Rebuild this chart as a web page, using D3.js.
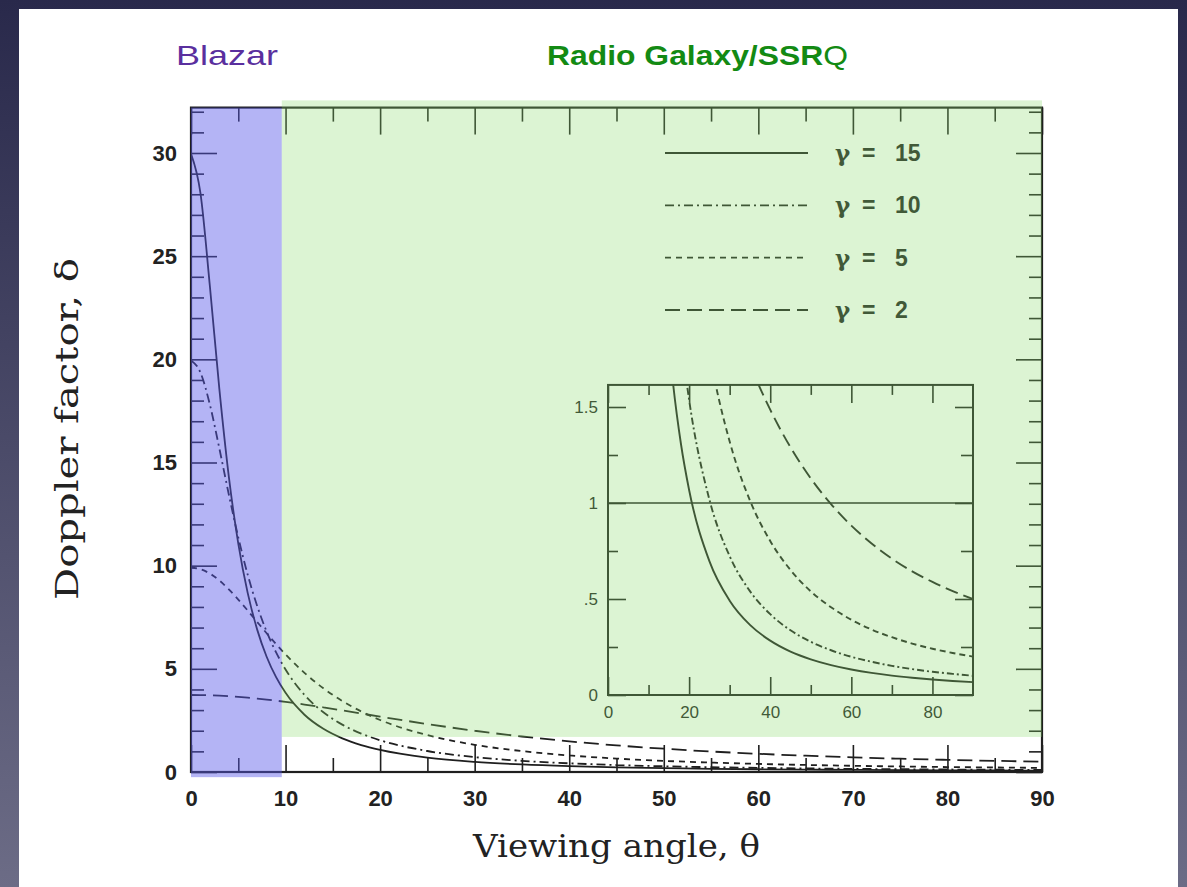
<!DOCTYPE html>
<html>
<head>
<meta charset="utf-8">
<script src="https://cdn.jsdelivr.net/npm/d3@7"></script>
<style>
  html, body { margin: 0; padding: 0; background: #3a3a5a; }
  svg { display: block; }
</style>
</head>
<body>
<svg id="chart" width="1187" height="887"></svg>
<script>
// Viewing angle θ (degrees) at which each curve is sampled
const angleDeg = [0, 1, 2, 3, 4, 5, 6, 7, 8, 9, 10, 12, 14, 16, 18, 20, 25, 30,
                  35, 40, 45, 50, 55, 60, 65, 70, 75, 80, 85, 90];

// Doppler factor δ for each Lorentz factor γ
const deltaGamma15 = [29.96, 28.05, 23.53, 18.56, 14.32, 11.07, 8.668, 6.90, 5.586, 4.595,
                      3.835, 2.775, 2.092, 1.631, 1.306, 1.068, 0.697, 0.491, 0.365, 0.283,
                      0.226, 0.186, 0.156, 0.133, 0.115, 0.101, 0.090, 0.081, 0.073, 0.067];
const deltaGamma10 = [19.95, 19.36, 17.80, 15.68, 13.45, 11.37, 9.557, 8.045, 6.805, 5.793,
                      4.968, 3.737, 2.893, 2.296, 1.862, 1.538, 1.018, 0.723, 0.541, 0.421,
                      0.337, 0.277, 0.233, 0.199, 0.173, 0.152, 0.135, 0.121, 0.110, 0.100];
const deltaGamma5  = [9.899, 9.827, 9.615, 9.283, 8.853, 8.358, 7.822, 7.271, 6.725, 6.199,
                      5.700, 4.806, 4.056, 3.439, 2.935, 2.522, 1.786, 1.320, 1.013, 0.802,
                      0.651, 0.540, 0.457, 0.392, 0.341, 0.301, 0.268, 0.241, 0.219, 0.200];
const deltaGamma2  = [3.732, 3.728, 3.717, 3.699, 3.674, 3.642, 3.604, 3.560, 3.511, 3.457,
                      3.398, 3.270, 3.131, 2.985, 2.835, 2.685, 2.324, 2.000, 1.721, 1.486,
                      1.290, 1.128, 0.994, 0.882, 0.789, 0.710, 0.644, 0.589, 0.541, 0.500];

const gammaLabels = ["15", "10", "5", "2"];

// Tick values
const mainXTicks = [0, 10, 20, 30, 40, 50, 60, 70, 80, 90];
const mainYTicks = [0, 5, 10, 15, 20, 25, 30];
const insetXTicks = [0, 20, 40, 60, 80];
const insetYTicks = [0, 0.5, 1, 1.5];
const insetYTickLabels = ["0", ".5", "1", "1.5"];

// Shaded regions (angle range for blazars, rest for radio galaxies / SSRQ)
const blazarAngleMax = 9.6;
const regionTitles = ["Blazar", "Radio Galaxy/SSR", "Q"];

const series = [
  { gamma: gammaLabels[0], values: deltaGamma15, dash: null,        insetDash: null },
  { gamma: gammaLabels[1], values: deltaGamma10, dash: "9,4,2,4",   insetDash: "7,3,2,3" },
  { gamma: gammaLabels[2], values: deltaGamma5,  dash: "6,5",       insetDash: "6,4" },
  { gamma: gammaLabels[3], values: deltaGamma2,  dash: "15,7",      insetDash: "13,6" }
];

const W = 1187, H = 887;
const svg = d3.select("#chart");
const defs = svg.append("defs");

// slide background
const bg = defs.append("linearGradient").attr("id", "bgGrad")
  .attr("x1", 0).attr("y1", 0).attr("x2", 0).attr("y2", 1);
bg.append("stop").attr("offset", "0%").attr("stop-color", "#29294b");
bg.append("stop").attr("offset", "100%").attr("stop-color", "#6c6c86");
svg.append("rect").attr("width", W).attr("height", H).attr("fill", "url(#bgGrad)");
svg.append("rect").attr("x", 19).attr("y", 9).attr("width", 1159).attr("height", H - 9)
  .attr("fill", "#ffffff");

const INK = "#1f1f1f";
const TICK_FONT = "'Liberation Sans', Arial, sans-serif";
const SERIF = "'DejaVu Serif', 'Liberation Serif', serif";

// ---------- main panel ----------
const x = d3.scaleLinear().domain([0, 90]).range([191, 1042]);
const y = d3.scaleLinear().domain([0, 30]).range([772, 153]);
const yTop = 32.2;

const main = svg.append("g");

defs.append("clipPath").attr("id", "mainClip").append("rect")
  .attr("x", x(0)).attr("y", y(yTop)).attr("width", x(90) - x(0)).attr("height", y(0) - y(yTop));

function styleAxis(g, fontSize, weight) {
  g.select(".domain").remove();
  g.selectAll(".tick line").attr("stroke", INK).attr("stroke-width", 1.6);
  g.selectAll(".tick text").attr("fill", "#222").attr("font-family", TICK_FONT)
    .attr("font-size", fontSize).attr("font-weight", weight);
}

const xMinorMain = d3.range(5, 90, 10);
const yMinorMain = d3.range(1, 33, 1).filter(v => v % 5 !== 0);

main.append("g").attr("transform", `translate(0,${y(0)})`)
  .call(d3.axisBottom(x).tickValues(mainXTicks).tickSize(-27).tickPadding(18).tickFormat(d3.format("d")))
  .call(g => styleAxis(g, 22, "bold"));
main.append("g").attr("transform", `translate(0,${y(0)})`)
  .call(d3.axisBottom(x).tickValues(xMinorMain).tickSize(-14).tickFormat(""))
  .call(g => styleAxis(g, 22, "bold"));
main.append("g").attr("transform", `translate(0,${y(yTop)})`)
  .call(d3.axisTop(x).tickValues(mainXTicks).tickSize(-27).tickFormat(""))
  .call(g => styleAxis(g, 22, "bold"));
main.append("g").attr("transform", `translate(0,${y(yTop)})`)
  .call(d3.axisTop(x).tickValues(xMinorMain).tickSize(-14).tickFormat(""))
  .call(g => styleAxis(g, 22, "bold"));
main.append("g").attr("transform", `translate(${x(0)},0)`)
  .call(d3.axisLeft(y).tickValues(mainYTicks).tickSize(-26).tickPadding(14).tickFormat(d3.format("d")))
  .call(g => styleAxis(g, 22, "bold"));
main.append("g").attr("transform", `translate(${x(0)},0)`)
  .call(d3.axisLeft(y).tickValues(yMinorMain).tickSize(-13).tickFormat(""))
  .call(g => styleAxis(g, 22, "bold"));
main.append("g").attr("transform", `translate(${x(90)},0)`)
  .call(d3.axisRight(y).tickValues(mainYTicks).tickSize(-26).tickFormat(""))
  .call(g => styleAxis(g, 22, "bold"));
main.append("g").attr("transform", `translate(${x(90)},0)`)
  .call(d3.axisRight(y).tickValues(yMinorMain).tickSize(-13).tickFormat(""))
  .call(g => styleAxis(g, 22, "bold"));

main.append("rect")
  .attr("x", x(0)).attr("y", y(yTop)).attr("width", x(90) - x(0)).attr("height", y(0) - y(yTop))
  .attr("fill", "none").attr("stroke", INK).attr("stroke-width", 2.2);

const mainLine = d3.line()
  .x((d, i) => x(angleDeg[i]))
  .y(d => y(d))
  .curve(d3.curveMonotoneX);

main.append("g").attr("clip-path", "url(#mainClip)")
  .selectAll("path").data(series).join("path")
  .attr("d", s => mainLine(s.values))
  .attr("fill", "none").attr("stroke", INK).attr("stroke-width", 1.8)
  .attr("stroke-dasharray", s => s.dash);

// legend: sample line, then "γ = n"
const legendY = d3.scalePoint().domain(gammaLabels).range([153, 310]);
const legend = main.append("g");
legend.selectAll("line").data(series).join("line")
  .attr("x1", 665).attr("x2", 808)
  .attr("y1", s => legendY(s.gamma)).attr("y2", s => legendY(s.gamma))
  .attr("stroke", INK).attr("stroke-width", 1.9)
  .attr("stroke-dasharray", s => s.dash);
const legendText = legend.selectAll("text").data(series).join("text")
  .attr("y", s => legendY(s.gamma) + 8)
  .attr("fill", "#222").attr("font-size", 23);
legendText.append("tspan").attr("x", 835)
  .attr("font-family", SERIF).attr("font-weight", "bold").text("γ");
legendText.append("tspan").attr("x", 862)
  .attr("font-family", TICK_FONT).attr("font-weight", "bold").text("=");
legendText.append("tspan").attr("x", 895)
  .attr("font-family", TICK_FONT).attr("font-weight", "bold").text(s => s.gamma);

// axis titles
main.append("text")
  .attr("x", (x(0) + x(90)) / 2).attr("y", 857)
  .attr("text-anchor", "middle").attr("font-family", SERIF).attr("font-size", 32)
  .attr("fill", "#222")
  .attr("textLength", 287).attr("lengthAdjust", "spacingAndGlyphs")
  .text("Viewing angle, θ");
main.append("text")
  .attr("transform", `translate(78,429) rotate(-90)`)
  .attr("text-anchor", "middle").attr("font-family", SERIF).attr("font-size", 31)
  .attr("fill", "#222")
  .attr("textLength", 342).attr("lengthAdjust", "spacingAndGlyphs")
  .text("Doppler factor, δ");

// ---------- inset ----------
const xi = d3.scaleLinear().domain([0, 90]).range([608, 973]);
const yi = d3.scaleLinear().domain([0, 1]).range([695, 503]);
const yiTop = 1.615;
const inset = svg.append("g");

defs.append("clipPath").attr("id", "insetClip").append("rect")
  .attr("x", xi(0)).attr("y", yi(yiTop)).attr("width", xi(90) - xi(0)).attr("height", yi(0) - yi(yiTop));

const xMinorInset = [10, 30, 50, 70];
const yMinorInset = [0.25, 0.75, 1.25];

inset.append("g").attr("transform", `translate(0,${yi(0)})`)
  .call(d3.axisBottom(xi).tickValues(insetXTicks).tickSize(-18).tickPadding(11).tickFormat(d3.format("d")))
  .call(g => styleAxis(g, 17, "normal"));
inset.append("g").attr("transform", `translate(0,${yi(0)})`)
  .call(d3.axisBottom(xi).tickValues(xMinorInset).tickSize(-10).tickFormat(""))
  .call(g => styleAxis(g, 17, "normal"));
inset.append("g").attr("transform", `translate(0,${yi(yiTop)})`)
  .call(d3.axisTop(xi).tickValues(insetXTicks).tickSize(-18).tickFormat(""))
  .call(g => styleAxis(g, 17, "normal"));
inset.append("g").attr("transform", `translate(0,${yi(yiTop)})`)
  .call(d3.axisTop(xi).tickValues(xMinorInset).tickSize(-10).tickFormat(""))
  .call(g => styleAxis(g, 17, "normal"));
inset.append("g").attr("transform", `translate(${xi(0)},0)`)
  .call(d3.axisLeft(yi).tickValues(insetYTicks).tickSize(-18).tickPadding(10)
    .tickFormat((d, i) => insetYTickLabels[i]))
  .call(g => styleAxis(g, 17, "normal"));
inset.append("g").attr("transform", `translate(${xi(0)},0)`)
  .call(d3.axisLeft(yi).tickValues(yMinorInset).tickSize(-10).tickFormat(""))
  .call(g => styleAxis(g, 17, "normal"));
inset.append("g").attr("transform", `translate(${xi(90)},0)`)
  .call(d3.axisRight(yi).tickValues(insetYTicks).tickSize(-18).tickFormat(""))
  .call(g => styleAxis(g, 17, "normal"));
inset.append("g").attr("transform", `translate(${xi(90)},0)`)
  .call(d3.axisRight(yi).tickValues(yMinorInset).tickSize(-12).tickFormat(""))
  .call(g => styleAxis(g, 17, "normal"));

inset.append("rect")
  .attr("x", xi(0)).attr("y", yi(yiTop)).attr("width", xi(90) - xi(0)).attr("height", yi(0) - yi(yiTop))
  .attr("fill", "none").attr("stroke", INK).attr("stroke-width", 2);

// δ = 1 reference line
inset.append("line")
  .attr("x1", xi(0)).attr("x2", xi(90)).attr("y1", yi(1)).attr("y2", yi(1))
  .attr("stroke", INK).attr("stroke-width", 1.6);

const insetLine = d3.line()
  .x((d, i) => xi(angleDeg[i]))
  .y(d => yi(d))
  .curve(d3.curveMonotoneX);

inset.append("g").attr("clip-path", "url(#insetClip)")
  .selectAll("path").data(series).join("path")
  .attr("d", s => insetLine(s.values))
  .attr("fill", "none").attr("stroke", INK).attr("stroke-width", 1.9)
  .attr("stroke-dasharray", s => s.insetDash);

// ---------- shaded regions ----------
svg.append("rect")
  .attr("x", x(0)).attr("y", y(yTop)).attr("width", x(blazarAngleMax) - x(0))
  .attr("height", y(-0.25) - y(yTop))
  .attr("fill", "rgb(88,88,232)").attr("fill-opacity", 0.45);
svg.append("rect")
  .attr("x", x(blazarAngleMax)).attr("y", y(32.55)).attr("width", x(90) - x(blazarAngleMax))
  .attr("height", y(1.7) - y(32.55))
  .attr("fill", "rgb(140,220,110)").attr("fill-opacity", 0.3);

// region titles
svg.append("text").attr("x", 176).attr("y", 65)
  .attr("font-family", TICK_FONT).attr("font-size", 28).attr("fill", "#5a2f9e")
  .attr("textLength", 102).attr("lengthAdjust", "spacingAndGlyphs")
  .text(regionTitles[0]);
const rg = svg.append("text").attr("x", 547).attr("y", 65)
  .attr("font-family", TICK_FONT).attr("font-size", 28).attr("fill", "#138a13")
  .attr("textLength", 301).attr("lengthAdjust", "spacingAndGlyphs");
rg.append("tspan").attr("font-weight", "bold").text(regionTitles[1]);
rg.append("tspan").attr("font-weight", "normal").text(regionTitles[2]);
</script>
</body>
</html>
